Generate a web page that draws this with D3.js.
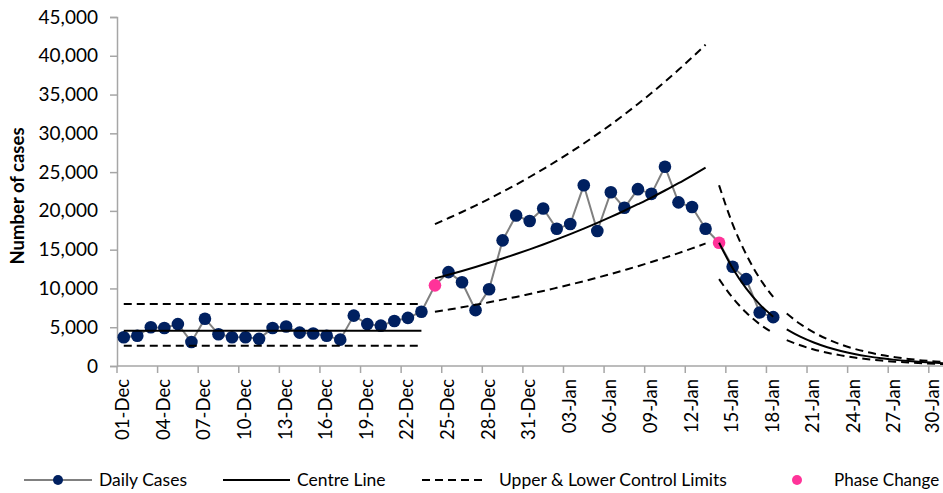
<!DOCTYPE html>
<html><head><meta charset="utf-8">
<script src="https://cdn.jsdelivr.net/npm/d3@7"></script>
<style>
html,body{margin:0;padding:0;background:#fff;}
svg text{font-family:Lato,"Open Sans",sans-serif;fill:#000;}
</style></head>
<body><svg id="c" width="943" height="493"></svg>
<script>
// ---------- data ----------
const startDate = new Date(2020, 11, 1);
const endDate = new Date(2021, 1, 1); // exclusive -> 01-Dec .. 31-Jan
const yTicks = [0, 5000, 10000, 15000, 20000, 25000, 30000, 35000, 40000, 45000];

const dailyCases = [3700, 3900, 5000, 4900, 5400, 3100, 6100, 4100, 3700, 3700, 3500, 4900, 5100, 4300, 4200,
  3900, 3400, 6500, 5400, 5200, 5800, 6200, 7000,
  10400, 12100, 10800, 7200, 9900, 16200, 19400, 18700, 20300, 17700, 18300,
  23300, 17400, 22400, 20400, 22800, 22200, 25700, 21100, 20500, 17700,
  15900, 12800, 11200, 6900, 6300];
const phaseChangeIdx = [23, 44];

// phase 1 (idx 0..22)
const p1Start = 0;
const p1Centre = [4550, 4550];
const p1Upper = [8000, 8000];
const p1Lower = [2600, 2600];
const p1End = 22;

// phase 2 (idx 23..43)
const p2Start = 23;
const p2Centre = [11300, 11770, 12260, 12770, 13310, 13860, 14440, 15040, 15670, 16320, 17000, 17710, 18450, 19220, 20020, 20860, 21720, 22630, 23570, 24560, 25580];
const p2Upper = [18300, 19070, 19860, 20690, 21560, 22460, 23390, 24370, 25380, 26440, 27540, 28690, 29890, 31130, 32430, 33790, 35190, 36660, 38190, 39780, 41440];
const p2Lower = [6980, 7270, 7570, 7890, 8210, 8560, 8910, 9290, 9670, 10080, 10500, 10930, 11390, 11860, 12360, 12870, 13410, 13970, 14550, 15160, 15790];

// phase 3 (idx 44..48)
const p3Start = 44;
const p3Centre = [15900, 12600, 10000, 7950, 6350];
const p3Upper = [23300, 18300, 14400, 11300, 8900];
const p3Lower = [11200, 8800, 6900, 5400, 4250];

// phase 3 projection (idx 49..61)
const p4Start = 49;
const p4Centre = [4730, 3780, 3030, 2420, 1940, 1550, 1240, 990, 790, 635, 510, 405, 325];
const p4Upper = [6760, 5410, 4330, 3470, 2770, 2220, 1780, 1420, 1140, 910, 725, 580, 465];
const p4Lower = [3330, 2670, 2130, 1710, 1370, 1090, 875, 700, 560, 447, 358, 286, 229];

const legendItems = ["Daily Cases", "Centre Line", "Upper & Lower Control Limits", "Phase Change"];

// ---------- chart ----------
const days = d3.timeDays(startDate, endDate);
const fmt = d3.timeFormat("%d-%b");
const svg = d3.select("#c");
const x0 = 117, step = 13.53;
const x = d3.scaleBand().domain(d3.range(days.length)).range([x0, x0 + step * days.length]).padding(0);
const cx = i => x(i) + x.bandwidth() / 2;
const y = d3.scaleLinear().domain([0, 45000]).range([366, 17]);

const AX = "#a6a6a6";
const NAVY = "#002060", PINK = "#ff3399", GREY = "#808080";

// y axis
const yAxis = svg.append("g").attr("transform", `translate(${x0},0)`)
  .call(d3.axisLeft(y).tickValues(yTicks).tickFormat(d3.format(",")).tickSizeOuter(0).tickSize(7).tickPadding(12));
yAxis.select(".domain").attr("stroke", AX).attr("stroke-width", 1.5);
yAxis.selectAll(".tick line").attr("stroke", AX).attr("stroke-width", 1.5);
yAxis.selectAll("text").attr("font-size", 19).style("font-family", "Lato");

// x axis
const xg = svg.append("g").attr("transform", `translate(0,${y(0)})`);
xg.append("line").attr("x1", x0).attr("x2", x0 + step * days.length).attr("stroke", AX).attr("stroke-width", 1.5);
const tickIdx = d3.range(0, days.length, 3);
xg.selectAll("line.t").data(tickIdx).join("line").attr("class", "t")
  .attr("x1", i => x(i)).attr("x2", i => x(i)).attr("y1", 0).attr("y2", 7)
  .attr("stroke", AX).attr("stroke-width", 1.5);
xg.selectAll("text").data(tickIdx).join("text")
  .attr("transform", i => `translate(${Math.min(cx(i) + 5.5, 938.5)},13) rotate(-90)`)
  .attr("text-anchor", "end").attr("font-size", 18.5)
  .text(i => fmt(days[i]));

// y title
svg.append("text").attr("transform", "translate(23.5,196) rotate(-90)")
  .attr("text-anchor", "middle").attr("font-size", 18.5).attr("font-weight", "bold")
  .text("Number of cases");

// daily line + dots
const line = d3.line().x(d => cx(d[0])).y(d => y(d[1]));
svg.append("path").datum(dailyCases.map((v, i) => [i, v])).attr("d", line)
  .attr("fill", "none").attr("stroke", GREY).attr("stroke-width", 2);
svg.selectAll("circle.d").data(dailyCases.map((v, i) => [i, v])).join("circle").attr("class", "d")
  .attr("cx", d => cx(d[0])).attr("cy", d => y(d[1])).attr("r", 6.3)
  .attr("fill", d => phaseChangeIdx.includes(d[0]) ? PINK : NAVY);

// control lines
const curve = d3.line().x(d => cx(d[0])).y(d => y(d[1])).curve(d3.curveMonotoneX);
function seg(start, arr, dashed, endIdx) {
  const pts = arr.length === 2 && endIdx !== undefined ? [[start, arr[0]], [endIdx, arr[1]]] : arr.map((v, i) => [start + i, v]);
  svg.append("path").datum(pts).attr("d", curve).attr("fill", "none")
    .attr("stroke", "#000").attr("stroke-width", 2)
    .attr("stroke-dasharray", dashed ? "8,5" : null);
}
seg(p1Start, p1Upper, true, p1End); seg(p1Start, p1Lower, true, p1End); seg(p1Start, p1Centre, false, p1End);
seg(p2Start, p2Upper, true); seg(p2Start, p2Lower, true); seg(p2Start, p2Centre, false);
seg(p3Start, p3Upper, true); seg(p3Start, p3Lower, true); seg(p3Start, p3Centre, false);
seg(p4Start, p4Upper, true); seg(p4Start, p4Lower, true); seg(p4Start, p4Centre, false);

// legend
const lg = svg.append("g").attr("transform", "translate(0,480)");
lg.append("line").attr("x1", 24).attr("x2", 92).attr("stroke", GREY).attr("stroke-width", 2);
lg.append("circle").attr("cx", 58).attr("r", 5).attr("fill", NAVY);
lg.append("line").attr("x1", 223).attr("x2", 290).attr("stroke", "#000").attr("stroke-width", 2);
lg.append("line").attr("x1", 422).attr("x2", 485).attr("stroke", "#000").attr("stroke-width", 2).attr("stroke-dasharray", "8,5");
lg.append("circle").attr("cx", 797).attr("r", 5).attr("fill", PINK);
const lx = [99, 297, 499, 834];
lg.selectAll("text").data(legendItems).join("text")
  .attr("x", (d, i) => lx[i]).attr("y", 6).attr("font-size", (d, i) => i === 3 ? 17 : 17.5).text(d => d);
</script></body></html>
